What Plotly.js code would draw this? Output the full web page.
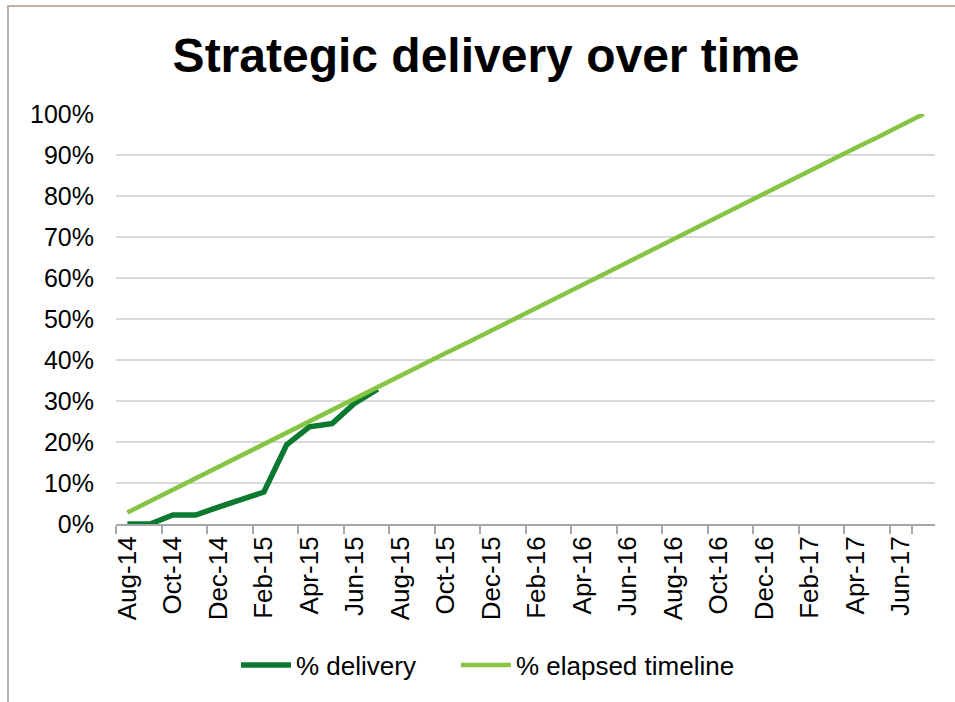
<!DOCTYPE html>
<html>
<head>
<meta charset="utf-8">
<script src="https://cdn.plot.ly/plotly-3.0.1.min.js"></script>
<style>
html,body{margin:0;padding:0;background:#fff;overflow:hidden;}
#chart{width:955px;height:702px;position:absolute;left:0;top:0;}
#frame{position:absolute;left:7px;top:5px;width:980px;height:720px;border:2px solid #BDB3AB;pointer-events:none;}
</style>
</head>
<body>
<div id="chart"></div>
<div id="frame"></div>
<script>
const months = ["Aug-14","Sep-14","Oct-14","Nov-14","Dec-14","Jan-15","Feb-15","Mar-15","Apr-15","May-15","Jun-15","Jul-15",
"Aug-15","Sep-15","Oct-15","Nov-15","Dec-15","Jan-16","Feb-16","Mar-16","Apr-16","May-16","Jun-16","Jul-16",
"Aug-16","Sep-16","Oct-16","Nov-16","Dec-16","Jan-17","Feb-17","Mar-17","Apr-17","May-17","Jun-17","Jul-17"];

const deliveryMonths = ["Aug-14","Sep-14","Oct-14","Nov-14","Dec-14","Jan-15","Feb-15","Mar-15","Apr-15","May-15","Jun-15","Jul-15"];
const deliveryPct = [0, 0, 2.2, 2.2, 4.1, 6.0, 7.8, 19.3, 23.7, 24.5, 29.5, 32.9];

const elapsedPct = [2.8, 5.6, 8.3, 11.1, 13.9, 16.7, 19.4, 22.2, 25.0, 27.8, 30.6, 33.3,
36.1, 38.9, 41.7, 44.4, 47.2, 50.0, 52.8, 55.6, 58.3, 61.1, 63.9, 66.7,
69.4, 72.2, 75.0, 77.8, 80.6, 83.3, 86.1, 88.9, 91.7, 94.4, 97.2, 100.0];

const yTicks = [0,10,20,30,40,50,60,70,80,90,100];
const xTickLabels = months.filter((m,i)=>i%2===0);

const font = "Liberation Sans, Arial, sans-serif";

const traces = [
  {x: deliveryMonths, y: deliveryPct.map(v=>v/100), name: "% delivery", type: "scatter", mode: "lines",
   line: {color: "#0B7A30", width: 5.5}, legend: "legend"},
  {x: months, y: elapsedPct.map(v=>v/100), name: "% elapsed timeline", type: "scatter", mode: "lines",
   line: {color: "#86C443", width: 4.5}, legend: "legend2"}
];

const legendFont = {family: font, size: 26, color: "#000"};

const layout = {
  width: 955, height: 702,
  margin: {l: 116, r: 20, t: 114, b: 178},
  paper_bgcolor: "#fff", plot_bgcolor: "#fff",
  title: {text: "<b>Strategic delivery over time</b>", font: {family: font, size: 48, color: "#000"},
          x: 0.509, xanchor: "center", y: 0.922, yanchor: "middle"},
  xaxis: {type: "category", categoryorder: "array", categoryarray: months,
          range: [-0.5, months.length - 0.5],
          tickmode: "array", tickvals: xTickLabels, ticktext: xTickLabels,
          tickson: "boundaries", ticks: "outside", ticklen: 8, tickcolor: "#A6A6A6", tickwidth: 2,
          tickangle: -90, tickfont: {family: font, size: 26, color: "#000"},
          showline: true, linecolor: "#A6A6A6", linewidth: 2, showgrid: false, zeroline: false,
          fixedrange: true},
  yaxis: {range: [0, 1], tickmode: "array", tickvals: yTicks.map(v=>v/100), ticktext: yTicks.map(v=>v+"%"),
          tickfont: {family: font, size: 25, color: "#000"},
          showgrid: true, gridcolor: "#D9D9D9", gridwidth: 2, zeroline: false, showline: false,
          ticks: "outside", ticklen: 16, tickcolor: "rgba(0,0,0,0)", fixedrange: true},
  showlegend: true,
  legend: {orientation: "h", x: 0.1465, xanchor: "left", y: -0.344, yanchor: "middle",
           font: legendFont, itemwidth: 50},
  legend2: {orientation: "h", x: 0.415, xanchor: "left", y: -0.344, yanchor: "middle",
           font: legendFont, itemwidth: 50}
};

Plotly.newPlot("chart", traces, layout, {displayModeBar: false, staticPlot: true});
</script>
</body>
</html>
